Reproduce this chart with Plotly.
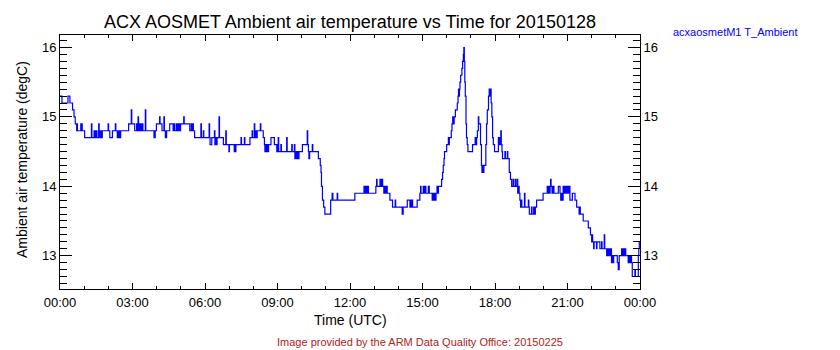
import plotly.graph_objects as go

# Ambient air temperature, 1-minute sampling shown as a stepped trace (hours UTC, degC)
hours = [
    0.00, 0.08, 0.33, 0.41, 0.52, 0.58, 0.63, 0.69, 0.70, 0.72, 0.86, 0.88, 0.90, 0.92,
    1.02, 1.30, 1.32, 1.41, 1.43, 1.46, 1.48, 1.51, 1.53, 1.60, 1.62, 1.64, 1.67, 1.70,
    1.72, 1.75, 1.85, 1.99, 2.01, 2.06, 2.17, 2.29, 2.31, 2.37, 2.40, 2.43, 2.46, 2.49,
    2.51, 2.84, 2.95, 2.97, 3.09, 3.17, 3.20, 3.23, 3.25, 3.28, 3.31, 3.34, 3.37, 3.40,
    3.43, 3.53, 3.55, 3.89, 3.94, 3.99, 4.12, 4.14, 4.22, 4.30, 4.32, 4.36, 4.41, 4.54,
    4.68, 4.71, 4.74, 4.81, 4.84, 4.87, 4.90, 4.93, 4.96, 4.99, 5.12, 5.14, 5.37, 5.43,
    5.45, 5.50, 5.52, 5.57, 5.83, 5.85, 5.93, 5.95, 6.17, 6.19, 6.21, 6.28, 6.39, 6.41,
    6.44, 6.47, 6.50, 6.58, 6.60, 6.76, 6.86, 6.88, 6.99, 7.01, 7.21, 7.24, 7.26, 7.28,
    7.49, 7.51, 7.63, 7.65, 7.86, 7.95, 7.97, 8.04, 8.06, 8.10, 8.13, 8.16, 8.29, 8.31,
    8.41, 8.46, 8.48, 8.51, 8.54, 8.57, 8.60, 8.63, 8.73, 8.87, 8.97, 9.00, 9.03, 9.05,
    9.14, 9.16, 9.38, 9.40, 9.59, 9.61, 9.70, 9.72, 9.75, 9.78, 9.81, 9.84, 9.89, 10.03,
    10.23, 10.25, 10.28, 10.30, 10.33, 10.44, 10.46, 10.69, 10.77, 10.80, 10.82, 10.86,
    10.91, 10.96, 11.20, 11.26, 11.29, 11.47, 11.49, 12.20, 12.58, 12.62, 12.65, 12.69,
    12.72, 12.76, 13.07, 13.10, 13.12, 13.24, 13.27, 13.30, 13.35, 13.40, 13.43, 13.47,
    13.50, 13.54, 13.65, 13.76, 13.87, 13.89, 14.16, 14.20, 14.37, 14.48, 14.51, 14.54,
    14.56, 14.59, 14.78, 14.89, 14.92, 14.94, 15.03, 15.06, 15.10, 15.14, 15.24, 15.28,
    15.33, 15.40, 15.43, 15.46, 15.50, 15.53, 15.56, 15.60, 15.63, 15.66, 15.79, 15.83,
    15.86, 15.89, 15.91, 16.00, 16.07, 16.09, 16.11, 16.19, 16.22, 16.25, 16.28, 16.31,
    16.36, 16.44, 16.47, 16.49, 16.51, 16.53, 16.55, 16.58, 16.63, 16.66, 16.69, 16.71,
    16.73, 16.75, 16.77, 16.80, 16.82, 16.85, 16.88, 17.07, 17.18, 17.21, 17.24, 17.27,
    17.31, 17.33, 17.40, 17.44, 17.46, 17.49, 17.51, 17.54, 17.62, 17.65, 17.68, 17.73,
    17.76, 17.79, 17.81, 17.84, 17.87, 17.90, 17.93, 17.98, 18.14, 18.17, 18.19, 18.20,
    18.24, 18.26, 18.29, 18.31, 18.41, 18.43, 18.51, 18.53, 18.59, 18.64, 18.69, 18.75,
    18.77, 18.84, 18.86, 18.92, 18.94, 18.97, 19.00, 19.03, 19.06, 19.08, 19.11, 19.22,
    19.24, 19.38, 19.40, 19.42, 19.51, 19.53, 19.60, 19.62, 19.67, 19.72, 19.99, 20.16,
    20.19, 20.22, 20.25, 20.28, 20.30, 20.32, 20.36, 20.40, 20.44, 20.62, 20.69, 20.72,
    20.76, 20.80, 20.82, 20.86, 20.90, 20.94, 20.98, 21.02, 21.06, 21.10, 21.20, 21.31,
    21.38, 21.48, 21.50, 21.53, 21.65, 21.86, 21.95, 22.00, 22.02, 22.04, 22.08, 22.10,
    22.20, 22.22, 22.34, 22.41, 22.43, 22.52, 22.54, 22.62, 22.65, 22.68, 22.71, 22.74,
    22.77, 22.82, 22.85, 22.88, 22.91, 23.06, 23.10, 23.14, 23.24, 23.27, 23.30, 23.33,
    23.36, 23.41, 23.51, 23.54, 23.57, 23.61, 23.65, 23.68, 23.79, 23.81, 23.93, 23.95,
    23.97, 24.00,
]
temp_c = [
    15.3, 15.2, 15.3, 15.2, 15.1, 15.0, 14.9, 14.8, 14.9, 14.8, 14.9, 14.8, 14.9, 14.8,
    14.7, 14.9, 14.7, 14.8, 14.7, 14.8, 14.7, 14.8, 14.7, 14.9, 14.7, 14.8, 14.7, 14.8,
    14.7, 14.8, 14.8, 14.9, 14.8, 14.7, 14.8, 14.9, 14.8, 14.7, 14.8, 14.7, 14.8, 14.7,
    14.8, 14.9, 15.1, 14.9, 14.8, 14.9, 14.8, 15.0, 14.8, 14.9, 14.8, 14.9, 14.8, 14.9,
    14.8, 15.1, 14.8, 14.7, 14.8, 14.9, 15.0, 14.9, 14.8, 15.0, 14.8, 14.7, 14.8, 14.9,
    14.8, 14.9, 14.8, 14.9, 14.8, 14.9, 14.8, 14.9, 14.8, 14.9, 15.0, 14.9, 14.8, 14.9,
    14.8, 14.9, 14.8, 14.7, 14.9, 14.7, 14.8, 14.7, 14.9, 14.7, 14.6, 14.7, 14.8, 14.6,
    14.7, 14.6, 14.7, 15.0, 14.7, 14.6, 14.8, 14.6, 14.5, 14.6, 14.5, 14.6, 14.5, 14.6,
    14.7, 14.6, 14.7, 14.6, 14.7, 14.8, 14.7, 14.9, 14.7, 14.8, 14.7, 14.8, 14.9, 14.8,
    14.7, 14.6, 14.5, 14.6, 14.5, 14.6, 14.5, 14.6, 14.7, 14.6, 14.5, 14.6, 14.7, 14.5,
    14.6, 14.5, 14.7, 14.5, 14.6, 14.5, 14.6, 14.4, 14.5, 14.4, 14.5, 14.4, 14.5, 14.6,
    14.8, 14.6, 14.5, 14.4, 14.5, 14.6, 14.5, 14.4, 14.3, 14.2, 14.0, 13.8,
    13.7, 13.6, 13.8, 13.9, 13.8, 13.9, 13.8, 13.9, 14.0, 13.9, 14.0, 13.9,
    14.0, 13.9, 14.0, 14.1, 14.0, 14.1, 14.0, 14.1, 14.0, 13.9, 14.0, 13.9,
    14.0, 13.9, 13.8, 13.7, 13.8, 13.7, 13.6, 13.7, 13.8, 13.7, 13.8, 13.7,
    13.8, 13.7, 13.8, 13.9, 14.0, 13.9, 14.0, 13.9, 14.0, 13.9, 14.0, 13.9,
    13.9, 13.8, 13.9, 13.8, 13.9, 13.8, 13.9, 14.0, 13.9, 14.0, 14.1, 14.2,
    14.3, 14.4, 14.5, 14.6, 14.7, 14.6, 14.7, 14.8, 14.9, 15.0, 14.9, 15.0,
    15.1, 15.2, 15.3, 15.4, 15.3, 15.4, 15.5, 15.6, 15.7, 15.8, 15.9, 16.0,
    15.8, 15.5, 15.3, 14.9, 14.7, 14.6, 14.5, 14.6, 14.7, 14.6, 14.7, 14.8,
    15.0, 14.9, 14.6, 14.3, 14.2, 14.3, 14.2, 14.3, 14.6, 14.9, 15.1, 15.3,
    15.4, 15.3, 15.4, 15.2, 15.0, 14.7, 14.6, 14.5, 14.7, 14.6, 14.7, 14.6,
    14.8, 14.6, 14.5, 14.4, 14.5, 14.4, 14.5, 14.4, 14.2, 14.1, 14.0, 14.1,
    14.0, 14.1, 14.0, 14.1, 13.9, 14.0, 13.9, 13.8, 13.7, 13.8, 13.7, 13.9,
    13.7, 13.8, 13.7, 13.6, 13.7, 13.6, 13.7, 13.6, 13.7, 13.8, 13.9, 14.0,
    13.9, 14.0, 13.9, 14.0, 14.1, 14.0, 13.9, 14.0, 13.9, 14.0, 13.9, 13.8,
    13.9, 13.8, 14.0, 13.9, 14.0, 13.9, 14.0, 13.9, 14.0, 13.8, 13.9, 13.8,
    13.7, 13.6, 13.7, 13.6, 13.5, 13.4, 13.3, 13.2, 13.3, 13.2, 13.1, 13.2,
    13.1, 13.2, 13.1, 13.2, 13.1, 13.3, 13.1, 13.0, 13.1, 13.0, 13.1, 13.0,
    13.1, 12.9, 13.0, 12.9, 13.0, 12.9, 12.8, 13.0, 13.1, 13.0, 13.1, 13.0,
    13.1, 13.0, 12.9, 13.0, 12.9, 13.0, 12.9, 12.7, 12.8, 12.7, 13.0, 13.1,
    13.2, 13.2,
]

tick_hours = [0, 3, 6, 9, 12, 15, 18, 21, 24]
tick_labels = ["00:00", "03:00", "06:00", "09:00", "12:00", "15:00", "18:00", "21:00", "00:00"]
temp_ticks = [13, 14, 15, 16]

FONT = "Liberation Sans"
Y_RANGE = [12.52, 16.18]

fig = go.Figure()
fig.add_trace(go.Scatter(
    x=hours, y=temp_c, mode="lines", line=dict(color="#0000ff", width=1.2, shape="hv"),
    showlegend=False, hoverinfo="skip",
))
# empty trace so the right-hand temperature axis is drawn
fig.add_trace(go.Scatter(x=[], y=[], yaxis="y2", showlegend=False, hoverinfo="skip"))

fig.update_layout(
    width=840, height=350,
    margin=dict(l=60, r=200, t=35, b=61),
    paper_bgcolor="white", plot_bgcolor="white",
    font=dict(family=FONT, color="black", size=13),
    title=dict(
        text="ACX AOSMET Ambient air temperature vs Time for 20150128",
        x=0.5, xref="paper", xanchor="center", y=1 - 22 / 350, yanchor="middle",
        font=dict(size=18, family=FONT, color="black"),
    ),
    xaxis=dict(
        range=[0, 24], tickvals=tick_hours, ticktext=tick_labels,
        ticks="inside", ticklen=6, tickcolor="black", tickwidth=1,
        minor=dict(dtick=1, ticks="inside", ticklen=3, tickcolor="black"),
        showline=True, linecolor="black", linewidth=1, mirror="ticks",
        showgrid=False, zeroline=False, tickfont=dict(size=13),
        ticklabelstandoff=1,
    ),
    yaxis=dict(
        range=Y_RANGE, tickvals=temp_ticks,
        ticks="inside", ticklen=12, tickcolor="black", tickwidth=1,
        minor=dict(dtick=0.1, ticks="inside", ticklen=7, tickcolor="black", tick0=13),
        showline=True, linecolor="black", linewidth=1,
        showgrid=False, zeroline=False, tickfont=dict(size=13),
    ),
    yaxis2=dict(
        range=Y_RANGE, tickvals=temp_ticks, overlaying="y", side="right",
        ticks="inside", ticklen=12, tickcolor="black", tickwidth=1,
        minor=dict(dtick=0.1, ticks="inside", ticklen=7, tickcolor="black", tick0=13),
        showline=True, linecolor="black", linewidth=1,
        showgrid=False, zeroline=False, tickfont=dict(size=13),
    ),
)

# pixel helpers for placing free text relative to the plotting area
def px_x(x):
    return (x - 60) / 580

def px_y(y):
    return (289 - y) / 254

fig.add_annotation(text="Ambient air temperature (degC)", textangle=-90,
                   x=px_x(22), y=px_y(160), xref="paper", yref="paper",
                   xanchor="center", yanchor="middle", showarrow=False,
                   font=dict(size=14, family=FONT, color="black"))
fig.add_annotation(text="Time (UTC)", x=0.5, y=px_y(320), xref="paper", yref="paper",
                   xanchor="center", yanchor="middle", showarrow=False,
                   font=dict(size=14, family=FONT, color="black"))
fig.add_annotation(text="acxaosmetM1 T_Ambient", x=px_x(671), y=px_y(32),
                   xref="paper", yref="paper", xanchor="left", yanchor="middle",
                   showarrow=False, font=dict(size=11, family=FONT, color="#0000ff"))
fig.add_annotation(text="Image provided by the ARM Data Quality Office: 20150225",
                   x=px_x(420), y=px_y(342), xref="paper", yref="paper",
                   xanchor="center", yanchor="middle", showarrow=False,
                   font=dict(size=11, family=FONT, color="#b22222"))

fig.write_html("out.html")
